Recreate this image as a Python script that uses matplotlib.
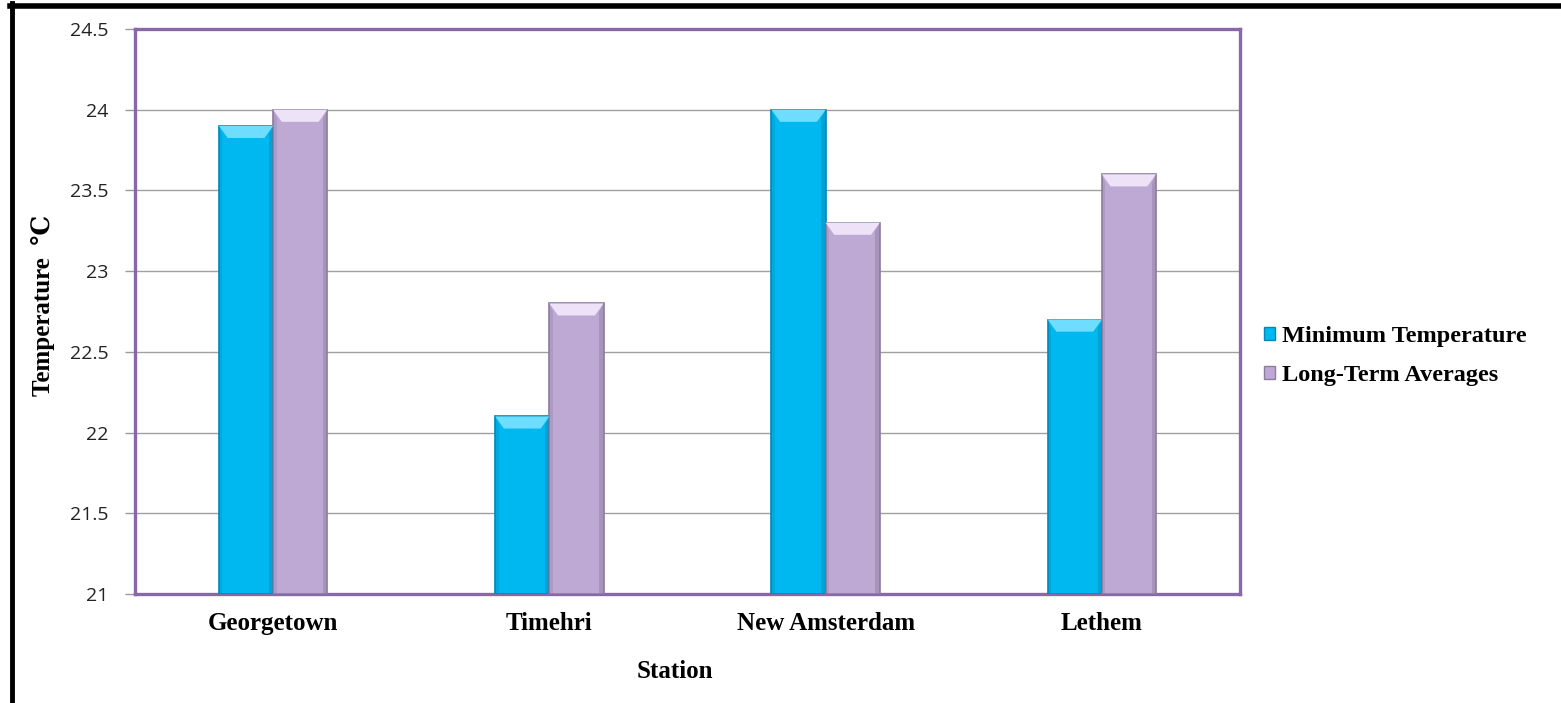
import numpy as np
import matplotlib
matplotlib.use("Agg")
import matplotlib.pyplot as plt
from matplotlib.patches import Polygon, Patch
from matplotlib.lines import Line2D

# station readings, deg C
stations = ["Georgetown", "Timehri", "New Amsterdam", "Lethem"]
min_temp = [23.9, 22.1, 24.0, 22.7]
long_term = [24.0, 22.8, 23.3, 23.6]
series_names = ["Minimum Temperature", "Long-Term Averages"]

y_ticks = [21, 21.5, 22, 22.5, 23, 23.5, 24, 24.5]
y_tick_labels = ["21", "21.5", "22", "22.5", "23", "23.5", "24", "24.5"]

serif = ["Liberation Serif", "DejaVu Serif"]
sans = ["Open Sans", "DejaVu Sans"]

# (face, top bevel, side edge)
styles = [("#00B8F0", "#6FDDFF", "#0088B8"),
          ("#BDA9D3", "#EEE2F8", "#8C7C9E")]

W, H = 1561, 703
fig = plt.figure(figsize=(W/100, H/100), dpi=100)
ax = fig.add_axes([135/W, 1-594/H, (1240-135)/W, (594-29)/H])

x = np.arange(len(stations))
bw = 0.196
ymin = 21.0

def bevel_bar(xc, val, face, hi, edge):
    ax.bar(xc, val - ymin, bw, bottom=ymin, color=face, edgecolor=edge,
           linewidth=1.2, zorder=3)
    dx = bw*0.16
    dy = 0.075
    x0, x1 = xc - bw/2, xc + bw/2
    ax.add_patch(Polygon([(x0, val), (x1, val), (x1-dx, val-dy), (x0+dx, val-dy)],
                         closed=True, facecolor=hi, edgecolor="none", zorder=4))
    # darker side strips
    ax.add_patch(Polygon([(x1, val), (x1, ymin), (x1-dx*0.5, ymin), (x1-dx*0.5, val-dy*0.7)],
                         closed=True, facecolor=edge, alpha=0.45, edgecolor="none", zorder=4))
    ax.add_patch(Polygon([(x0, val), (x0, ymin), (x0+dx*0.4, ymin), (x0+dx*0.4, val-dy*0.7)],
                         closed=True, facecolor=edge, alpha=0.3, edgecolor="none", zorder=4))

for i in range(len(stations)):
    bevel_bar(x[i] - bw/2, min_temp[i], *styles[0])
    bevel_bar(x[i] + bw/2, long_term[i], *styles[1])

ax.set_xlim(-0.5, len(stations) - 0.5)
ax.set_ylim(21, 24.5)
ax.set_yticks(y_ticks)
ax.set_yticklabels(y_tick_labels, family=sans, fontsize=14, color="#222222")
ax.set_xticks(x)
ax.set_xticklabels(stations, family=serif, fontsize=18, fontweight="bold")
ax.tick_params(axis="x", length=0, pad=13)
ax.tick_params(axis="y", length=7, width=1, color="#999999", pad=12)
ax.yaxis.grid(True, color="#A0A0A0", linewidth=1)
ax.set_axisbelow(True)
for s in ax.spines.values():
    s.set_color("#8868A8")
    s.set_linewidth(2.4)

fig.text(675/W, 1-672/H, "Station", family=serif, fontsize=18, fontweight="bold",
         ha="center", va="center")
fig.text(43/W, 1-305/H, "Temperature  \u2103", family=serif, fontsize=18,
         fontweight="bold", rotation=90, ha="center", va="center")

handles = [Patch(facecolor=styles[0][0], edgecolor=styles[0][2]),
           Patch(facecolor=styles[1][0], edgecolor=styles[1][2])]
fig.legend(handles, series_names, loc="center left",
           bbox_to_anchor=(1264/W, 1-356/H), frameon=False,
           prop={"family": serif, "size": 17.5, "weight": "bold"},
           handlelength=0.45, handleheight=0.45, handletextpad=0.3,
           labelspacing=0.75, borderpad=0, borderaxespad=0)

# black frame on top and left
fig.add_artist(Line2D([10/W, 1], [1-5.5/H, 1-5.5/H], color="black", linewidth=4,
                      transform=fig.transFigure))
fig.add_artist(Line2D([12/W, 12/W], [0, 1-3/H], color="black", linewidth=3.5,
                      transform=fig.transFigure))

fig.savefig("out.png", dpi=100)
